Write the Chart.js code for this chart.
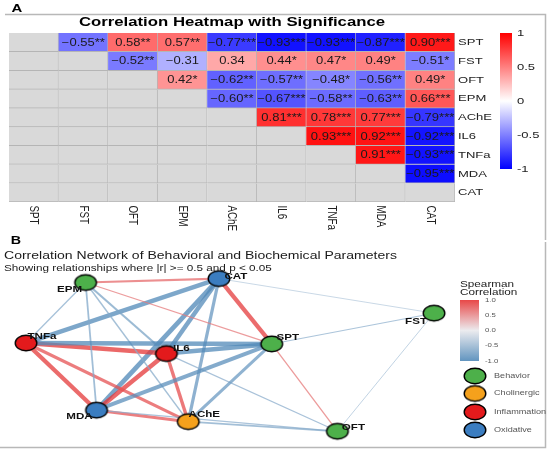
<!DOCTYPE html>
<html>
<head>
<meta charset="utf-8">
<script src="https://cdn.jsdelivr.net/npm/chart.js@4.4.1/dist/chart.umd.min.js"></script>
<style>
html,body{margin:0;padding:0;background:#fff;}
#wrap{position:relative;width:550px;height:451px;overflow:hidden;background:#fff;}
#cA{position:absolute;left:0;top:0;}
#cB{position:absolute;left:0;top:230px;}
</style>
</head>
<body>
<div id="wrap">
<canvas id="cA" width="550" height="240"></canvas>
<canvas id="cB" width="550" height="221"></canvas>
</div>
<script>
// ---------------- DATA ----------------
const variables = ['SPT','FST','OFT','EPM','AChE','IL6','TNFa','MDA','CAT'];

// Spearman r (upper triangle, row = variable, column = variables order)
const rSPT  = [null, -0.55, 0.58, 0.57, -0.77, -0.93, -0.93, -0.87, 0.90];
const rFST  = [null, null, -0.52, -0.31, 0.34, 0.44, 0.47, 0.49, -0.51];
const rOFT  = [null, null, null, 0.42, -0.62, -0.57, -0.48, -0.56, 0.49];
const rEPM  = [null, null, null, null, -0.60, -0.67, -0.58, -0.63, 0.66];
const rAChE = [null, null, null, null, null, 0.81, 0.78, 0.77, -0.79];
const rIL6  = [null, null, null, null, null, null, 0.93, 0.92, -0.92];
const rTNFa = [null, null, null, null, null, null, null, 0.91, -0.93];
const rMDA  = [null, null, null, null, null, null, null, null, -0.95];
const rCAT  = [null, null, null, null, null, null, null, null, null];

// significance stars
const sSPT  = ['', '**', '**', '**', '***', '***', '***', '***', '***'];
const sFST  = ['', '', '**', '', '', '*', '*', '*', '*'];
const sOFT  = ['', '', '', '*', '**', '**', '*', '**', '*'];
const sEPM  = ['', '', '', '', '**', '***', '**', '**', '***'];
const sAChE = ['', '', '', '', '', '***', '***', '***', '***'];
const sIL6  = ['', '', '', '', '', '', '***', '***', '***'];
const sTNFa = ['', '', '', '', '', '', '', '***', '***'];
const sMDA  = ['', '', '', '', '', '', '', '', '***'];
const sCAT  = ['', '', '', '', '', '', '', '', ''];

const heatTicks = [1, 0.5, 0, -0.5, -1];
const heatTickLabels = ['1', '0.5', '0', '-0.5', '-1'];

// network: node groups and layout coordinates
const nodeGroup = ['Behavior','Behavior','Behavior','Behavior','Cholinergic','Inflammation','Inflammation','Oxidative','Oxidative'];
const layoutX = [0.186, 0.927, 0.486, -0.664, -0.195, -0.295, -0.936, -0.614, -0.055];
const layoutY = [0.125, 0.489, -0.909, 0.852, -0.795, 0.011, 0.136, -0.659, 0.898];
const groupNames = ['Behavior','Cholinergic','Inflammation','Oxidative'];
const netTicks = [1.0, 0.5, 0.0, -0.5, -1.0];
const netTickLabels = ['1.0', '0.5', '0.0', '-0.5', '-1.0'];
const rThreshold = 0.5;

// ---------------- STYLE ----------------
const corrRows = [rSPT, rFST, rOFT, rEPM, rAChE, rIL6, rTNFa, rMDA, rCAT];
const starRows = [sSPT, sFST, sOFT, sEPM, sAChE, sIL6, sTNFa, sMDA, sCAT];
const groupColors = ['#4DB04A', '#F5A11C', '#E31A1C', '#3B7DC0'];
const labelOffsets = [[16,-6],[-18,8],[16,-4],[-16,7],[16,-7],[15,-5],[16,-6],[-17,6],[17,-2]];
const SX = 1.33;
const FONT = '"Liberation Sans", Arial, Helvetica, sans-serif';

function drawText(ctx, s, x, y, o) {
  o = o || {};
  ctx.save();
  ctx.font = (o.bold ? 'bold ' : '') + (o.size || 10) + 'px ' + FONT;
  ctx.fillStyle = o.color || '#000';
  ctx.textAlign = o.align || 'left';
  ctx.textBaseline = o.baseline || 'middle';
  ctx.translate(x, y);
  if (o.rotate) { ctx.rotate(o.rotate); ctx.scale(1, o.sx || SX); }
  else { ctx.scale(o.sx || SX, 1); }
  ctx.fillText(s, 0, 0);
  ctx.restore();
}

function heatColor(r) {
  const c = Math.round(255 * (1 - Math.abs(r)));
  return r >= 0 ? `rgb(255,${c},${c})` : `rgb(${c},${c},255)`;
}

const netLow = [70, 130, 180], netMid = [232, 232, 236], netHigh = [228, 40, 40];
function netRGB(r) {
  const a = Math.abs(r);
  const end = r >= 0 ? netHigh : netLow;
  return netMid.map((m, k) => Math.round(m + (end[k] - m) * a));
}
function fmt(r) {
  const s = Math.abs(r).toFixed(2);
  return (r < 0 ? '\u2212' : '') + s;
}

// ---------------- CHART A : heatmap ----------------
const heatDatasets = variables.map((v, i) => ({
  label: v,
  data: variables.map(() => [i, i + 1]),
  backgroundColor: variables.map((w, j) => (j > i && corrRows[i][j] !== null) ? heatColor(corrRows[i][j]) : '#d9d9d9'),
  borderColor: '#b5b5b5',
  borderWidth: {top: 0, left: 0, right: 1, bottom: 1},
  borderSkipped: false,
  grouped: false,
  barPercentage: 1,
  categoryPercentage: 1
}));

const heatPlugin = {
  id: 'heatDecor',
  afterDatasetsDraw(chart) {
    const ctx = chart.ctx;
    corrRows.forEach((row, i) => {
      const meta = chart.getDatasetMeta(i);
      row.forEach((r, j) => {
        if (j <= i || r === null) return;
        const el = meta.data[j];
        const cy = (el.y + el.base) / 2;
        drawText(ctx, fmt(r) + starRows[i][j], el.x, cy + 0.5, {size: 10, align: 'center', color: '#1a1a1a', sx: 1.3});
      });
    });
  },
  afterDraw(chart) {
    const ctx = chart.ctx;
    const xs = chart.scales.x, ys = chart.scales.y;
    const area = chart.chartArea;
    // frame
    ctx.save();
    ctx.strokeStyle = '#b8b8b8';
    ctx.lineWidth = 1.5;
    ctx.beginPath();
    ctx.moveTo(5, 14.5); ctx.lineTo(545.5, 14.5); ctx.lineTo(545.5, 240);
    ctx.stroke();
    ctx.restore();
    drawText(ctx, 'A', 17, 8.5, {size: 11.5, bold: true, align: 'center', sx: 1.3});
    drawText(ctx, 'Correlation Heatmap with Significance', (area.left + area.right) / 2, 23, {size: 12.5, bold: true, align: 'center', sx: 1.34});
    // y labels (right)
    variables.forEach((v, i) => {
      drawText(ctx, v, area.right + 3, ys.getPixelForValue(i + 0.5), {size: 9.8, color: '#222'});
    });
    // x labels (rotated)
    variables.forEach((v, j) => {
      drawText(ctx, v, xs.getPixelForValue(j), area.bottom + 3.5, {size: 9.8, color: '#222', rotate: Math.PI / 2, sx: 1.3});
    });
    // colour bar
    const cbX = 500, cbW = 12, cbTop = 33, cbBot = 169;
    const g = ctx.createLinearGradient(0, cbTop, 0, cbBot);
    g.addColorStop(0, heatColor(1));
    g.addColorStop(0.5, heatColor(0));
    g.addColorStop(1, heatColor(-1));
    ctx.fillStyle = g;
    ctx.fillRect(cbX, cbTop, cbW, cbBot - cbTop);
    heatTicks.forEach((t, k) => {
      const y = cbTop + (1 - t) / 2 * (cbBot - cbTop);
      drawText(ctx, heatTickLabels[k], 517, y, {size: 9.8, color: '#222'});
    });
  }
};

new Chart(document.getElementById('cA'), {
  type: 'bar',
  data: {labels: variables, datasets: heatDatasets},
  options: {
    responsive: false,
    animation: false,
    events: [],
    layout: {padding: {left: 9, right: 95, top: 33, bottom: 38}},
    plugins: {legend: {display: false}, tooltip: {enabled: false}, title: {display: false}},
    scales: {
      x: {type: 'category', offset: true, display: false},
      y: {type: 'linear', min: 0, max: 9, reverse: true, display: false}
    }
  },
  plugins: [heatPlugin]
});

// ---------------- CHART B : network ----------------
function nodeSprite(color, rx, ry) {
  const c = document.createElement('canvas');
  c.width = Math.ceil(rx * 2 + 4); c.height = Math.ceil(ry * 2 + 4);
  const x = c.getContext('2d');
  x.beginPath();
  x.ellipse(c.width / 2, c.height / 2, rx, ry, 0, 0, Math.PI * 2);
  x.fillStyle = color; x.fill();
  x.lineWidth = 1.4; x.strokeStyle = '#000'; x.stroke();
  return c;
}
const sprites = groupColors.map(c => nodeSprite(c, 10.8, 7.8));

const edgeDatasets = [];
corrRows.forEach((row, i) => {
  row.forEach((r, j) => {
    if (j <= i || r === null) return;
    if (Math.abs(r) < rThreshold || starRows[i][j] === '') return;
    const rgb = netRGB(r);
    edgeDatasets.push({
      type: 'scatter',
      data: [{x: layoutX[i], y: layoutY[i]}, {x: layoutX[j], y: layoutY[j]}],
      showLine: true,
      borderColor: `rgba(${rgb[0]},${rgb[1]},${rgb[2]},0.75)`,
      borderWidth: 0.6 + (Math.abs(r) - rThreshold) * 9,
      pointRadius: 0,
      fill: false,
      clip: false,
      order: 1
    });
  });
});

const nodeDataset = {
  type: 'scatter',
  data: variables.map((v, i) => ({x: layoutX[i], y: layoutY[i]})),
  pointStyle: variables.map((v, i) => sprites[groupNames.indexOf(nodeGroup[i])]),
  pointRadius: 11,
  clip: false,
  order: 0
};

const OY = 230;
const netPlugin = {
  id: 'netDecor',
  afterDraw(chart) {
    const ctx = chart.ctx;
    const xs = chart.scales.x, ys = chart.scales.y;
    // node labels
    variables.forEach((v, i) => {
      const px = xs.getPixelForValue(layoutX[i]), py = ys.getPixelForValue(layoutY[i]);
      drawText(ctx, v, px + labelOffsets[i][0], py + labelOffsets[i][1], {size: 8.6, bold: true, align: 'center', color: '#111', sx: 1.35});
    });
    // frame
    ctx.save();
    ctx.strokeStyle = '#b8b8b8';
    ctx.lineWidth = 1.5;
    ctx.beginPath();
    ctx.moveTo(545.5, 242 - OY); ctx.lineTo(545.5, 447.5 - OY); ctx.lineTo(0, 447.5 - OY);
    ctx.stroke();
    ctx.restore();
    drawText(ctx, 'B', 16, 241 - OY, {size: 11, bold: true, align: 'center', sx: 1.3});
    drawText(ctx, 'Correlation Network of Behavioral and Biochemical Parameters', 4, 256 - OY, {size: 10.4, color: '#1a1a1a', sx: 1.35});
    drawText(ctx, 'Showing relationships where |r| >= 0.5 and p < 0.05', 4, 268.5 - OY, {size: 8.7, color: '#1a1a1a', sx: 1.35});
    // colour legend
    drawText(ctx, 'Spearman', 460, 285 - OY, {size: 8.4, color: '#222', sx: 1.4});
    drawText(ctx, 'Correlation', 460, 292.5 - OY, {size: 8.4, color: '#222', sx: 1.4});
    const cbX = 460, cbW = 19, cbTop = 300 - OY, cbBot = 361 - OY;
    const g = ctx.createLinearGradient(0, cbTop, 0, cbBot);
    const steps = [1, 0.5, 0, -0.5, -1];
    steps.forEach((s, k) => {
      const c = netRGB(s);
      g.addColorStop(k / (steps.length - 1), `rgba(${c[0]},${c[1]},${c[2]},0.85)`);
    });
    ctx.fillStyle = g;
    ctx.fillRect(cbX, cbTop, cbW, cbBot - cbTop);
    netTicks.forEach((t, k) => {
      const y = cbTop + (1 - t) / 2 * (cbBot - cbTop);
      drawText(ctx, netTickLabels[k], 485, y, {size: 6, color: '#555', sx: 1.3});
    });
    // group legend
    const ly = [376, 393.5, 412, 430];
    groupNames.forEach((gname, k) => {
      const sp = sprites[k];
      ctx.drawImage(sp, 475 - sp.width / 2, ly[k] - OY - sp.height / 2);
      drawText(ctx, gname, 494, ly[k] - OY, {size: 7, color: '#555', sx: 1.3});
    });
  }
};

new Chart(document.getElementById('cB'), {
  type: 'scatter',
  data: {datasets: [nodeDataset].concat(edgeDatasets)},
  options: {
    responsive: false,
    animation: false,
    events: [],
    layout: {padding: {left: 10, right: 100, top: 40, bottom: 5}},
    plugins: {legend: {display: false}, tooltip: {enabled: false}, title: {display: false}},
    scales: {
      x: {type: 'linear', min: -1, max: 1, display: false},
      y: {type: 'linear', min: -1, max: 1, display: false}
    }
  },
  plugins: [netPlugin]
});
</script>
</body>
</html>
